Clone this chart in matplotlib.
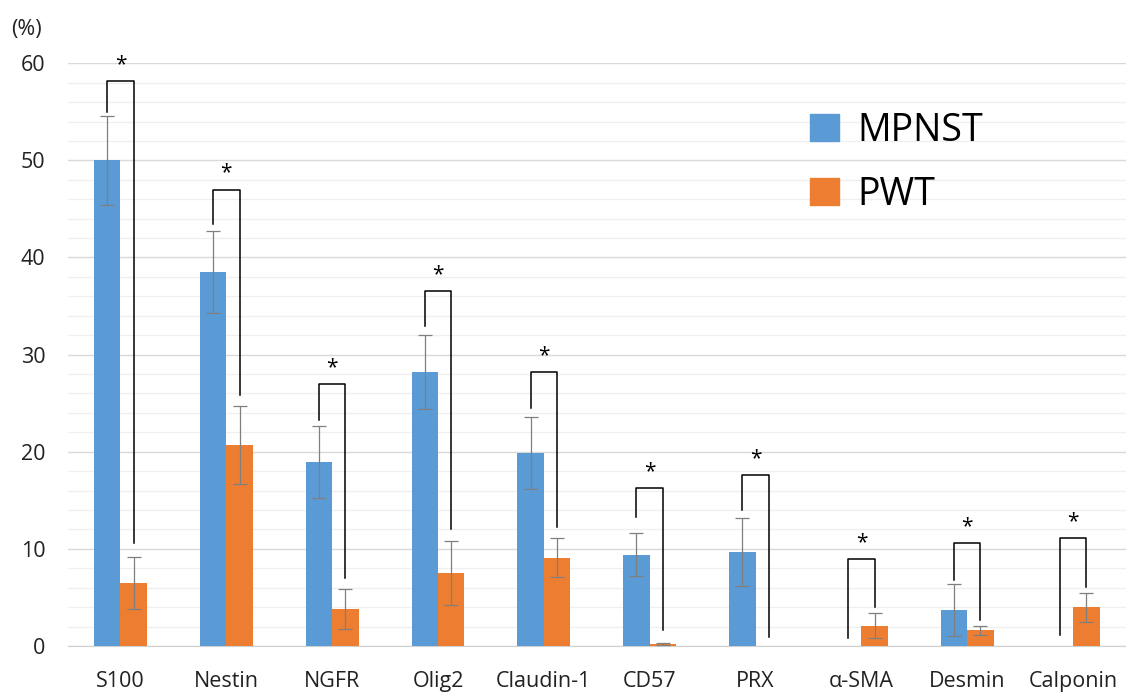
import numpy as np
import matplotlib.pyplot as plt
from matplotlib.patches import Patch

markers = ['S100', 'Nestin', 'NGFR', 'Olig2', 'Claudin-1', 'CD57', 'PRX',
           'α-SMA', 'Desmin', 'Calponin']
mpnst = [50.0, 38.5, 18.9, 28.2, 19.9, 9.4, 9.7, 0.0, 3.7, 0.0]
mpnst_err = [4.6, 4.2, 3.7, 3.8, 3.7, 2.2, 3.5, 0.0, 2.7, 0.0]
pwt = [6.5, 20.7, 3.8, 7.5, 9.1, 0.2, 0.0, 2.1, 1.6, 4.0]
pwt_err = [2.7, 4.0, 2.1, 3.3, 2.0, 0.1, 0.0, 1.3, 0.5, 1.5]

# significance brackets: top, left leg end, right leg end
br_top = [58.2, 47.0, 27.0, 36.5, 28.2, 16.3, 17.6, 9.0, 10.6, 11.1]
br_left = [55.0, 43.5, 23.3, 32.9, 24.5, 13.3, 14.0, 0.8, 6.8, 1.1]
br_right = [10.6, 25.8, 7.0, 12.0, 12.3, 1.6, 0.9, 4.0, 2.7, 6.1]

blue = '#5B9BD5'
orange = '#ED7D31'

plt.rcParams['font.family'] = ['Open Sans', 'DejaVu Sans']

fig = plt.figure(figsize=(11.26, 6.95), dpi=100)
ax = fig.add_axes([0.060, 0.0705, 0.94, 0.8385])

x = np.arange(len(markers))
w = 0.25
ax.bar(x - w / 2, mpnst, w, color=blue, zorder=3)
ax.bar(x + w / 2, pwt, w, color=orange, zorder=3)

# error bars only where there is a bar
ekw = dict(fmt='none', ecolor='#7F7F7F', elinewidth=0.9, capsize=5, capthick=0.9, zorder=4)
m_idx = [i for i in x if mpnst[i] > 0]
p_idx = [i for i in x if pwt[i] > 0]
ax.errorbar([x[i] - w / 2 for i in m_idx], [mpnst[i] for i in m_idx],
            yerr=[mpnst_err[i] for i in m_idx], **ekw)
ax.errorbar([x[i] + w / 2 for i in p_idx], [pwt[i] for i in p_idx],
            yerr=[pwt_err[i] for i in p_idx], **ekw)

for i in range(len(markers)):
    xl, xr = x[i] - w / 2, x[i] + w / 2
    ax.plot([xl, xl, xr, xr], [br_left[i], br_top[i], br_top[i], br_right[i]],
            color='black', lw=1.1, zorder=5, clip_on=False)
    ax.text(x[i], br_top[i] + 0.6, '*', ha='center', va='bottom', fontsize=15,
            zorder=5, clip_on=False)

ax.set_xlim(-0.5, len(markers) - 0.5)
ax.set_ylim(0, 60)
ax.set_yticks(np.arange(0, 61, 10))
ax.set_yticks(np.arange(0, 61, 2), minor=True)
ax.set_xticks(x)
ax.set_xticklabels(markers)
ax.grid(axis='y', which='major', color='#D9D9D9', lw=1.0, zorder=0)
ax.grid(axis='y', which='minor', color='#EFEFEF', lw=0.9, zorder=0)
ax.tick_params(axis='both', which='both', length=0, labelsize=15.5, colors='#222222')
ax.tick_params(axis='x', pad=18)
ax.tick_params(axis='y', pad=16)
for s in ['top', 'right', 'left']:
    ax.spines[s].set_visible(False)
ax.spines['bottom'].set_color('#D0D0D0')

fig.text(0.010, 0.950, '(%)', fontsize=15.5, color='#222222')

handles = [Patch(color=blue, label='MPNST'), Patch(color=orange, label='PWT')]
ax.legend(handles=handles, loc='upper left', bbox_to_anchor=(0.67, 0.975), frameon=False,
          fontsize=27, handlelength=0.75, handleheight=0.75, handletextpad=0.5,
          labelspacing=0.7)

fig.savefig('out.png', dpi=100)
